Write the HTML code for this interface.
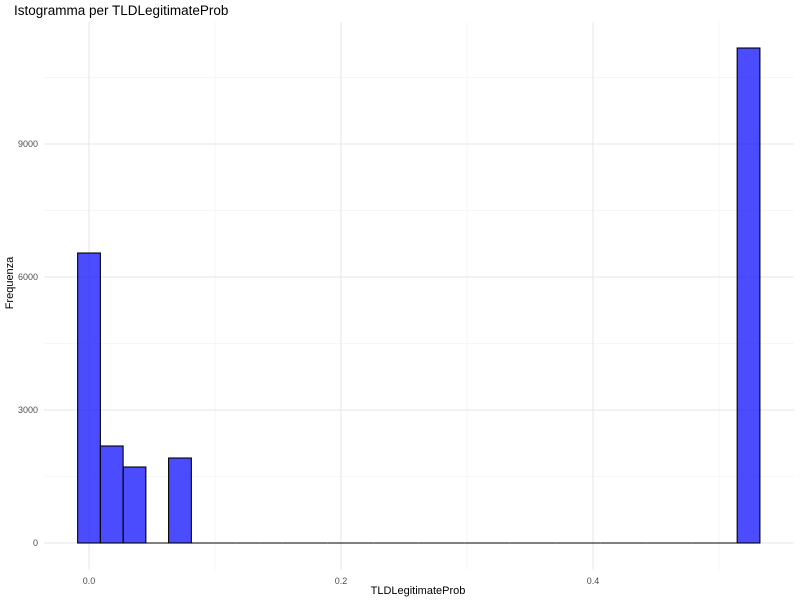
<!DOCTYPE html>
<html><head><meta charset="utf-8"><style>
body{margin:0;background:#fff;font-family:"Liberation Sans",sans-serif;}
svg text{font-family:"Liberation Sans",sans-serif;}
</style></head><body>
<svg id="chart" width="800" height="600">
<text x="14" y="15" font-size="13.5" fill="#000">Istogramma per TLDLegitimateProb</text>
<g id="grid"></g><g id="bars"></g><g id="axes"></g>
<text x="418" y="594" font-size="11" text-anchor="middle">TLDLegitimateProb</text>
<text transform="translate(13,283) rotate(-90)" font-size="11" text-anchor="middle">Frequenza</text>
</svg>
<script>
const binWidth = 0.01805;
const binCenters = [0,0.01805,0.0361,0.05415,0.0722,0.09025,0.1083,0.12635,0.1444,0.16245,0.1805,0.19855,0.2166,0.23465,0.2527,0.27075,0.2888,0.30685,0.3249,0.34295,0.361,0.37905,0.3971,0.41515,0.4332,0.45125,0.4693,0.48735,0.5054,0.52345];
const counts = [6541,2188,1714,0,1917,0,0,0,0,0,0,0,0,0,0,0,0,0,0,0,0,0,0,0,0,0,0,0,0,11165];
const xTicks = [0,0.2,0.4];
const xTickLabels = ["0.0","0.2","0.4"];
const xMinor = [0.1,0.3,0.5];
const yTicks = [0,3000,6000,9000];
const yTickLabels = ["0","3000","6000","9000"];
const yMinor = [1500,4500,7500,10500];
const X = v => 89 + v*1260;
const Y = v => 543 - v*133/3000;
const ns="http://www.w3.org/2000/svg";
function mk(t,a,p){const e=document.createElementNS(ns,t);for(const k in a)e.setAttribute(k,a[k]);p.appendChild(e);return e;}
const g=document.getElementById('grid'),b=document.getElementById('bars'),ax=document.getElementById('axes');
xMinor.forEach(v=>{const l=mk('line',{x1:X(v),x2:X(v),y1:22,y2:570,stroke:'#f0f0f0','stroke-width':0.6},g);

});
yMinor.forEach(v=>{const l=mk('line',{x1:44,x2:794,y1:Y(v),y2:Y(v),stroke:'#f0f0f0','stroke-width':0.6},g);

});
xTicks.forEach((v,i)=>{const l=mk('line',{x1:X(v),x2:X(v),y1:22,y2:570,stroke:'#e6e6e6','stroke-width':1},g);


const t=mk('text',{x:X(v),y:584,'font-size':9,'text-anchor':'middle',fill:'#4d4d4d'},ax);t.textContent=xTickLabels[i];

});
yTicks.forEach((v,i)=>{const l=mk('line',{x1:44,x2:794,y1:Y(v),y2:Y(v),stroke:'#e6e6e6','stroke-width':1},g);


const t=mk('text',{x:38,y:Y(v)+3,'font-size':9,'text-anchor':'end',fill:'#4d4d4d'},ax);t.textContent=yTickLabels[i];

});
binCenters.forEach((c,i)=>{const x0=X(c-binWidth/2),x1=X(c+binWidth/2),y=Y(counts[i]);
if(counts[i]===0){
const l=mk('line',{x1:x0,x2:x1,y1:Y(0),y2:Y(0),stroke:'#000','stroke-width':1.1},b);


return;}
const r=mk('rect',{x:x0,y:y,width:x1-x0,height:Y(0)-y,fill:'rgba(0,0,255,0.7)',stroke:'#000','stroke-width':1.1},b);

});
</script>
</body></html>
